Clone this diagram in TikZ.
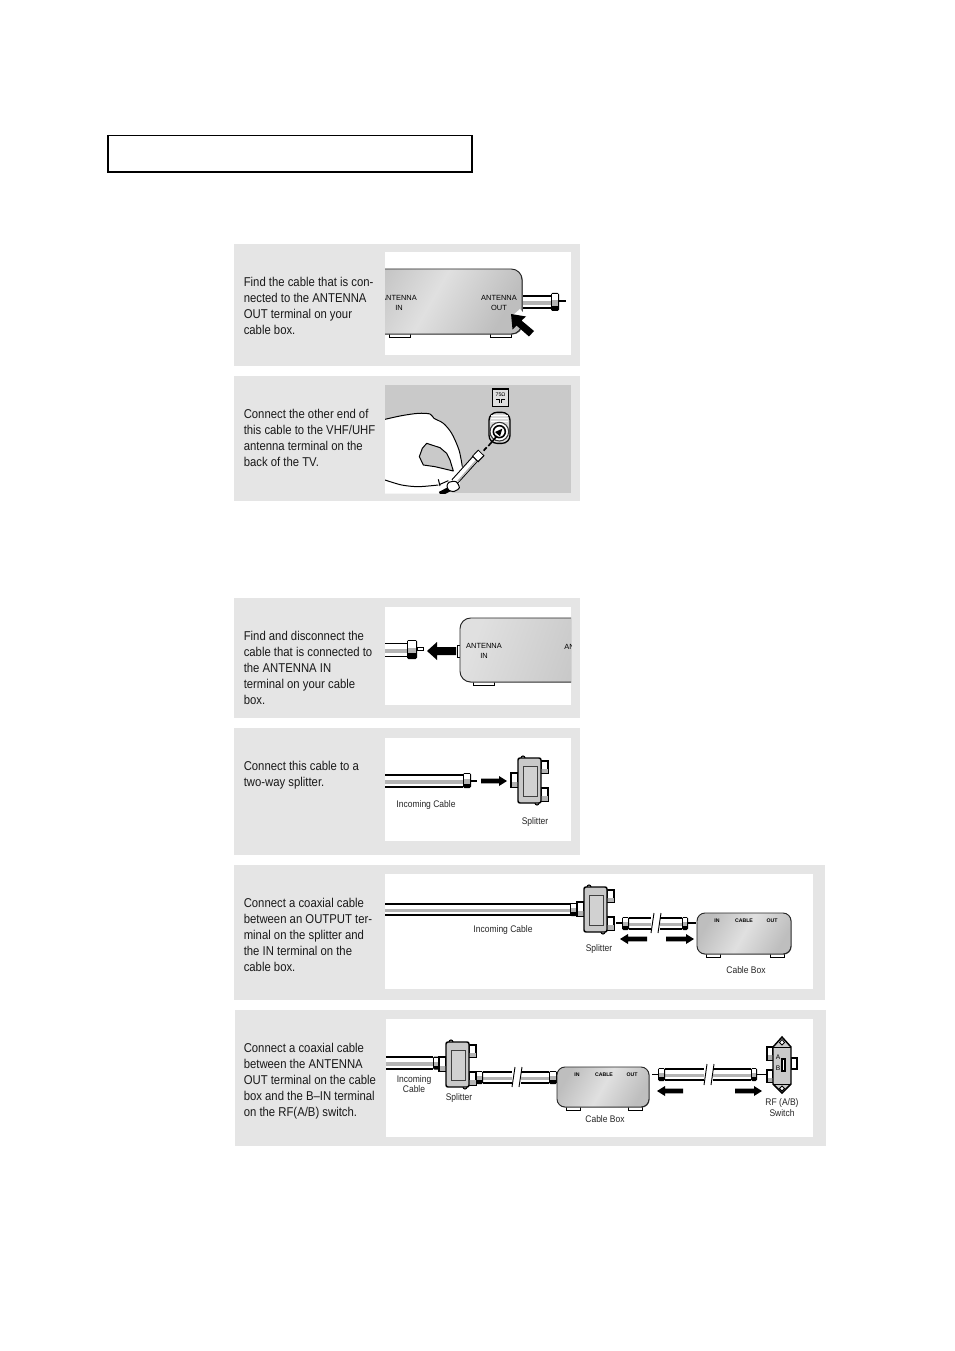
\documentclass[tikz,border=0pt]{standalone}
\usepackage{fontspec}
\setmainfont{Liberation Sans}
\newfontfamily\bodyf[FakeStretch=0.885]{Liberation Sans}
\definecolor{panelbg}{HTML}{E5E5E5}
\definecolor{innerbg}{HTML}{C9C9C9}
\definecolor{midgray}{HTML}{B4B4B4}
\definecolor{boxdark}{HTML}{BEBEBE}
\definecolor{boxlight}{HTML}{E0E0E0}
\tikzset{
  panel/.style={fill=panelbg,draw=none},
  whitebox/.style={fill=white,draw=none},
  bodytext/.style={anchor=west,inner sep=0pt,align=left,text=black!90,font=\bodyf\fontsize{9.6}{12}\selectfont},
  smalltext/.style={inner sep=0pt,align=center,text=black!85,font=\bodyf\fontsize{7.2}{8}\selectfont},
  boxtext/.style={inner sep=0pt,align=center,font=\fontsize{5.6}{7}\selectfont},
  tinytext/.style={inner sep=0pt,font=\bfseries\fontsize{3.9}{5}\selectfont},
  outline/.style={draw=black,line width=0.8pt},
  boxshade/.style={left color=boxdark,right color=boxdark,middle color=boxlight,shading angle=60},
  part/.style={draw=black,line width=0.8pt,fill=white},
  handline/.style={draw=black,line width=0.75pt,line join=round}
}
% tube: x1 x2 yc halfheight
\newcommand{\tube}[4]{%
  \fill[white] (#1,#3-#4) rectangle (#2,#3+#4);
  \fill[midgray] (#1,#3-0.1*#4) rectangle (#2,#3+0.5*#4);
  \draw[black,line width=0.8pt] (#1,#3-#4) -- (#2,#3-#4);
  \draw[black,line width=1.1pt] (#1,#3+#4) -- (#2,#3+#4);
}
% nut: x1 x2 yc halfheight
\newcommand{\nut}[4]{%
  \fill[black,rounded corners=1] (#1,#3-#4) rectangle (#2,#3+#4);
  \fill[white] (#1+1,#3-#4+1) rectangle (#2-1,#3-0.2*#4);
  \fill[midgray] (#1+1,#3-0.2*#4) rectangle (#2-1,#3+0.4*#4);
}
\newcommand{\pin}[3]{\draw[black,line width=1pt] (#1,#3) -- (#2,#3);}
% block arrow: tail tip y shafthalf headhalf headlen(signed)
\newcommand{\barrow}[6]{%
  \fill[black] (#1,#3-#4) -- (#2-#6,#3-#4) -- (#2-#6,#3-#5) -- (#2,#3) -- (#2-#6,#3+#5) -- (#2-#6,#3+#4) -- (#1,#3+#4) -- cycle;
}
% break slashes: xa xb ytop ybot
\newcommand{\breakmark}[4]{%
  \fill[white] (#1-1,#3+3) rectangle (#2+1,#4-3);
  \draw[black,line width=0.7pt] (#1+2,#3) -- (#1-1,#4);
  \draw[black,line width=0.7pt] (#2+2,#3) -- (#2-1,#4);
}
% splitter at body top-left
\newcommand{\splitter}[2]{%
  \begin{scope}[shift={(#1,#2)}]
    \path[part] (-7,15) rectangle (0,29);
    \fill[midgray] (-6.5,24) rectangle (0,28.5);
    \path[part] (23,3) rectangle (30,15);
    \fill[midgray] (23,11) rectangle (29.5,14.5);
    \path[part] (23,30) rectangle (30,43);
    \fill[midgray] (23,38) rectangle (29.5,42.5);
    \draw[black,line width=0.8pt,fill=white] (5,0) circle (2);
    \draw[black,line width=0.8pt,fill=white] (19,45) circle (2);
    \path[draw=black,line width=1.1pt,fill=innerbg,rounded corners=1.5] (0,0) rectangle (23,45);
    \path[draw=black!75,line width=0.7pt,fill=innerbg!85!white] (5,8) rectangle (19,38);
  \end{scope}
}
% cable box at top-left
\newcommand{\cablebox}[4]{%
  \begin{scope}[shift={(#1,#2)}]
    \path[draw=black,line width=0.6pt,fill=white] (9,#4-1) rectangle (23,#4+3);
    \path[draw=black,line width=0.6pt,fill=white] (#3-21,#4-1) rectangle (#3-7,#4+3);
    \fill[black!60,rounded corners=6] (0.6,0.6) rectangle (#3+0.6,#4+0.6);
    \path[draw=black!85,line width=0.7pt,boxshade,rounded corners=6] (0,0) rectangle (#3,#4);
    \node[tinytext] at (20,8) {IN};
    \node[tinytext] at (47,8) {CABLE};
    \node[tinytext] at (75,8) {OUT};
  \end{scope}
}
\begin{document}
\begin{tikzpicture}[x=0.75pt,y=-0.75pt]
\useasboundingbox (0,0) rectangle (954,1351);
\fill[white] (0,0) rectangle (954,1351);

% title frame
\coordinate (tl) at (108,135.5);
\coordinate (br) at (472,172);
\draw[black,line width=0.9pt] (tl) rectangle (br);
\draw[black,line width=1.5pt] (108,135) -- (108,172.5) -- (472.5,172.5);

% ---------- panels
\path[panel] (234,244) rectangle (580,366);
\path[whitebox] (385,252) rectangle (571,355);
\path[panel] (234,376) rectangle (580,501);
\fill[innerbg] (385,385) rectangle (571,493);
\path[panel] (234,598) rectangle (580,718);
\path[whitebox] (385,607) rectangle (571,705);
\path[panel] (234,728) rectangle (580,855);
\path[whitebox] (385,738) rectangle (571,841);
\path[panel] (234,865) rectangle (825,1000);
\path[whitebox] (385,874) rectangle (813,989);
\path[panel] (235,1010) rectangle (826,1146);
\path[whitebox] (386,1019) rectangle (813,1137);

% ---------- body text
\node[bodytext] (t1) at (243.5,306) {Find the cable that is con-\\nected to the ANTENNA\\OUT terminal on your\\cable box.};
\node[bodytext] (t2) at (243.5,438) {Connect the other end of\\this cable to the VHF/UHF\\antenna terminal on the\\back of the TV.};
\node[bodytext] (t3) at (243.5,668) {Find and disconnect the\\cable that is connected to\\the ANTENNA IN\\terminal on your cable\\box.};
\node[bodytext] (t4) at (243.5,775) {Connect this cable to a\\two-way splitter.};
\node[bodytext] (t5) at (243.5,935) {Connect a coaxial cable\\between an OUTPUT ter-\\minal on the splitter and\\the IN terminal on the\\cable box.};
\node[bodytext] (t6) at (243.5,1081) {Connect a coaxial cable\\between the ANTENNA\\OUT terminal on the cable\\box and the B–IN terminal\\on the RF(A/B) switch.};

% ---------- panel 1 picture
\tube{522}{551}{302}{6}
\nut{551}{559}{302}{9}
\pin{559}{566}{301}
\begin{scope}
  \clip (385,252) rectangle (571,355);
  \path[draw=black,line width=0.6pt,fill=white] (389,333) rectangle (410,337.5);
  \path[draw=black,line width=0.6pt,fill=white] (490,333) rectangle (511,337.5);
  \fill[black!60,rounded corners=8] (340.6,269.6) rectangle (522.8,334.6);
  \path[draw=black!85,line width=0.7pt,boxshade,rounded corners=8] (340,269) rectangle (522,334);
  \node[boxtext] (a1) at (399,303) {ANTENNA\\IN};
  \node[boxtext] (a2) at (499,303) {ANTENNA\\OUT};
\end{scope}
\fill[white] (512,316) -- (520,309) -- (538,329) -- (528,339) -- cycle;
\fill[black] (511,314) -- (526,316.5) -- (521.5,320.5) -- (534,331) -- (529,336.5) -- (516.5,325.5) -- (512.5,329.5) -- cycle;

% ---------- panel 2 picture
\begin{scope}
  \clip (385,385) rectangle (571,493);
  \begin{scope}[shift={(385,385)},scale=1/3]
    % hand
    \fill[white] plot[smooth] coordinates {(0,103) (50,92) (100,85) (135,87) (147,100) (175,115) (200,145) (222,195) (232,245)}
      -- (225,290) -- (222,310) -- (200,322) -- (165,326) -- (0,326) -- cycle;
    \path[handline] plot[smooth] coordinates {(0,103) (50,92) (100,85) (135,87) (147,100) (175,115) (200,145) (222,195) (232,245)};
    \path[handline,fill=innerbg] (125,175) -- (112,190) -- (103,215) -- (115,240) -- (150,245) -- (205,258) -- (195,225) -- (185,205) -- (165,188) -- cycle;
    \path[handline] plot[smooth] coordinates {(0,285) (50,300) (100,305) (160,300)};
    \path[handline] (160,283) -- (165,303);
    % coax in hand
    \draw[black,line width=3.6pt] (165,327) -- (200,309);
    \draw[black,line width=5.6pt] (208,291) -- (272,220);
    \draw[white,line width=4pt] (208,291) -- (272,220);
    \draw[midgray,line width=1pt] (218,289) -- (276,224);
    % thumb
    \path[handline,fill=white] plot[smooth cycle] coordinates {(192,292) (213,290) (223,308) (208,319) (192,316) (186,303)};
    \path[handline] (165,298) -- (190,287);
    \draw[black,line width=6.6pt] (270,223) -- (289,203);
    \draw[white,line width=5pt] (272,220) -- (287,205);
    \draw[black,line width=1.3pt] (296,197) -- (305,187);
    % terminal
    \path[draw=black,line width=1pt,fill=innerbg!70!white,rounded corners=6] (312,82) rectangle (375,175);
    \foreach \yy in {92,100,108}{\draw[white,line width=0.6pt] (318,\yy) -- (369,\yy);}
    \path[draw=black!80,line width=0.8pt,fill=white] (343,140) circle (28);
    \path[draw=black,line width=1.2pt,fill=white] (343,140) circle (18);
    \draw[black,line width=1.2pt] (310,183) -- (336,153);
    \fill[black] (352,131) -- (345,154) -- (330,141) -- cycle;
    % label
    \path[draw=black,line width=0.9pt,fill=innerbg!60!white] (322,12) rectangle (371,65);
    \node[inner sep=0pt,font=\fontsize{4}{4}\selectfont] (ohm) at (346.5,28) {75Ω};
    \draw[black,line width=0.5pt] (333,42) -- (343,42) -- (343,55) (360,42) -- (350,42) -- (350,55);
  \end{scope}
\end{scope}

% ---------- panel 3 picture
\begin{scope}
  \clip (385,607) rectangle (571,705);
  \path[draw=black,line width=0.6pt,fill=white] (473,681) rectangle (494,685);
  \path[draw=black,line width=0.6pt,fill=white] (457,645) rectangle (462,657);
  \fill[black!60,rounded corners=8] (460.6,618.6) rectangle (640.6,682.6);
  \path[draw=black!85,line width=0.7pt,left color=boxlight,right color=boxdark,shading angle=70,rounded corners=8] (460,618) rectangle (640,682);
  \node[boxtext] (a3) at (484,651) {ANTENNA\\IN};
  \node[boxtext,anchor=west] (a4) at (564,646.5) {ANTENNA};
  \tube{380}{408}{650}{6.5}
\end{scope}
\nut{407}{417}{649.5}{9.5}
\draw[black,line width=0.6pt,fill=white] (417,647.5) rectangle (423,650.5);
\barrow{456}{427}{651}{4}{9}{-10}

% ---------- panel 4 picture
\tube{385}{463}{781}{6}
\nut{463}{471}{780.5}{7.5}
\pin{471}{477}{781}
\barrow{481}{507}{781}{2.4}{5}{8}
\splitter{518}{758}
\node[smalltext] (c1) at (426,805) {Incoming Cable};
\node[smalltext] (s1) at (535,822) {Splitter};

% ---------- panel 5 picture
\tube{385}{571}{909.5}{5.5}
\nut{570}{577}{909.5}{6.5}
\splitter{584}{887}
\node[smalltext] (c2) at (503,930) {Incoming Cable};
\node[smalltext] (s2) at (599,949) {Splitter};
\pin{616}{622}{923}
\tube{629}{682}{923.5}{5.5}
\breakmark{652}{659}{913}{933}
\nut{622}{629}{923.5}{6.5}
\nut{682}{688}{923.5}{6.5}
\pin{688}{696}{923}
\barrow{647}{620}{939}{2.4}{5}{-8}
\barrow{666}{694}{939}{2.4}{5}{8}
\cablebox{697}{913}{94}{41}
\node[smalltext] (b1) at (746,970) {Cable Box};

% ---------- panel 6 picture
\tube{386}{433}{1063}{6}
\nut{433}{440}{1063}{6.5}
\splitter{446}{1042}
\node[smalltext] (c3) at (414,1084) {Incoming\\Cable};
\node[smalltext] (s3) at (459,1098) {Splitter};
\tube{483}{549}{1077.5}{5.5}
\breakmark{513}{520}{1067}{1087}
\nut{476}{483}{1077.5}{6.5}
\nut{549}{557}{1077.5}{6.5}
\cablebox{557}{1067}{92}{40}
\node[smalltext] (b2) at (605,1119) {Cable Box};
\pin{652}{658}{1074.5}
\tube{665}{751}{1074.5}{5.5}
\breakmark{705}{712}{1064}{1085}
\nut{658}{665}{1074.5}{6.5}
\nut{751}{757}{1074.5}{6.5}
\pin{757}{767}{1074.5}
\barrow{683}{657}{1091}{2.4}{5}{-8}
\barrow{735}{762}{1091}{2.4}{5}{8}
% RF switch
\path[part] (767,1047) rectangle (773,1060);
\fill[midgray] (767.5,1055) rectangle (773,1059.5);
\path[part] (767,1070) rectangle (773,1082);
\fill[midgray] (767.5,1078) rectangle (773,1081.5);
\path[part] (791,1058) rectangle (797,1069);
\path[draw=black,line width=1.1pt,fill=innerbg] (773,1047) -- (782,1037) -- (791,1047) -- (791,1084) -- (782,1093) -- (773,1084) -- cycle;
\draw[black,line width=0.6pt] (773,1047) -- (791,1047) (773,1084) -- (791,1084);
\path[draw=black,line width=0.6pt,fill=white] (782,1039.5) -- (784.5,1042.5) -- (782,1045) -- (779.5,1042.5) -- cycle;
\path[draw=black,line width=0.6pt,fill=white] (782,1086) -- (784.5,1088.5) -- (782,1091) -- (779.5,1088.5) -- cycle;
\path[draw=black,line width=0.8pt,fill=white] (782,1059) rectangle (785,1071);
\node[tinytext,font=\fontsize{5}{6}\selectfont] (swa) at (778,1057) {A};
\node[tinytext,font=\fontsize{5}{6}\selectfont] (swb) at (778,1068) {B};
\node[smalltext] (rf) at (782,1107.5) {RF (A/B)\\Switch};
\end{tikzpicture}
\end{document}
